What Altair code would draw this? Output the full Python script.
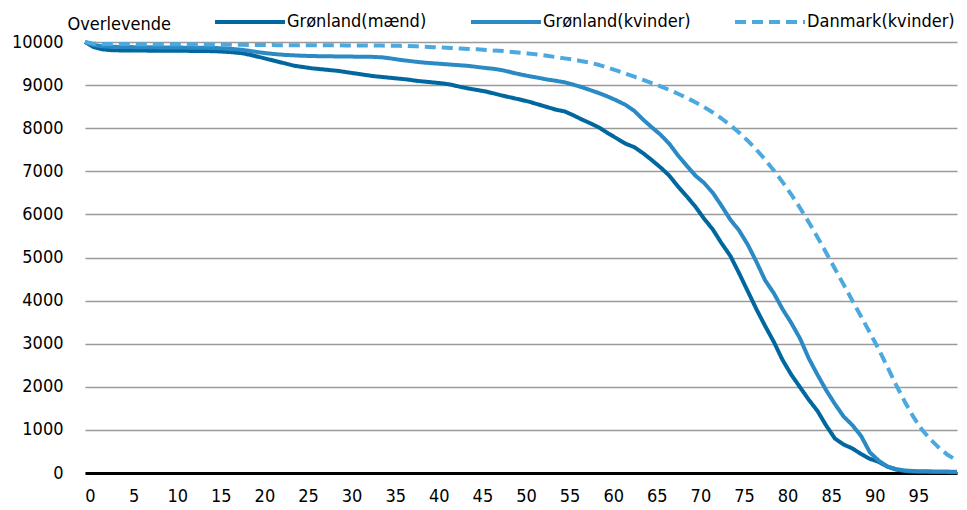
import altair as alt
import pandas as pd

ages = list(range(101))

maend = [10000, 9880, 9830, 9810, 9805, 9800, 9800, 9800, 9798, 9797,
         9796, 9795, 9794, 9792, 9790, 9785, 9775, 9760, 9740, 9700,
         9650, 9600, 9550, 9500, 9450, 9420, 9390, 9370, 9350, 9330,
         9300, 9270, 9240, 9210, 9190, 9170, 9150, 9130, 9100, 9080,
         9060, 9040, 9010, 8960, 8920, 8885, 8850, 8800, 8750, 8705,
         8660, 8610, 8550, 8490, 8430, 8390, 8300, 8200, 8110, 8010,
         7880, 7760, 7640, 7560, 7420, 7260, 7090, 6900, 6650, 6420,
         6180, 5900, 5650, 5330, 5040, 4640, 4220, 3800, 3410, 3040,
         2620, 2280, 1990, 1700, 1440, 1100, 800, 660, 570, 440,
         330, 260, 150, 80, 45, 30, 28, 25, 22, 20, 20]

kvinder = [10000, 9930, 9900, 9890, 9885, 9882, 9880, 9878, 9876, 9874,
           9872, 9870, 9868, 9866, 9864, 9860, 9850, 9835, 9820, 9790,
           9760, 9735, 9715, 9700, 9690, 9680, 9675, 9670, 9668, 9665,
           9663, 9660, 9660, 9655, 9645, 9620, 9590, 9565, 9540, 9520,
           9505, 9490, 9475, 9460, 9445, 9420, 9395, 9375, 9340, 9290,
           9245, 9205, 9170, 9130, 9100, 9065, 9010, 8950, 8880, 8810,
           8730, 8640, 8540, 8400, 8200, 8020, 7850, 7640, 7370, 7130,
           6900, 6730, 6500, 6200, 5880, 5630, 5300, 4900, 4470, 4170,
           3800, 3480, 3120, 2660, 2280, 1920, 1600, 1310, 1110, 860,
           480, 290, 150, 90, 60, 45, 40, 38, 35, 32, 30]

danmark = [10000, 9960, 9955, 9953, 9952, 9951, 9950, 9950, 9949, 9948,
           9947, 9946, 9945, 9944, 9943, 9941, 9939, 9937, 9935, 9932,
           9930, 9928, 9927, 9926, 9925, 9924, 9923, 9923, 9922, 9922,
           9921, 9920, 9919, 9918, 9916, 9914, 9911, 9908, 9900, 9890,
           9880, 9870, 9860, 9850, 9840, 9830, 9815, 9800, 9790, 9770,
           9750, 9730, 9705, 9680, 9650, 9620, 9590, 9555, 9515, 9465,
           9400, 9335, 9265, 9195, 9120, 9045, 8970, 8890, 8800, 8705,
           8600, 8490, 8365, 8225, 8070, 7900, 7710, 7500, 7270, 7020,
           6750, 6460, 6150, 5820, 5470, 5110, 4740, 4370, 4000, 3630,
           3260, 2880, 2470, 2050, 1660, 1300, 1000, 770, 570, 410, 290]

series_names = ["Grønland(mænd)", "Grønland(kvinder)", "Danmark(kvinder)"]
colors = ["#00679F", "#2B8AC4", "#4BA9E0"]
dashes = [[1, 0], [1, 0], [11, 6]]
x_ticks = list(range(0, 100, 5))
y_ticks = list(range(0, 10001, 1000))

rows = []
for name, vals in zip(series_names, [maend, kvinder, danmark]):
    for a, v in zip(ages, vals):
        rows.append({"alder": a, "overlevende": v, "serie": name})
df = pd.DataFrame(rows)

FONT = "'DejaVu Sans Condensed', 'Liberation Sans', sans-serif"
FS = 18

legend_kw = dict(
    orient="none", legendX=128, legendY=-57, direction="horizontal",
    title=None, symbolType="stroke", symbolSize=4900, symbolStrokeWidth=4,
    labelFontSize=FS, labelFont=FONT, labelColor="black", labelOffset=0,
    columnPadding=36, padding=0,
)

chart = alt.Chart(df).mark_line(strokeWidth=4, strokeJoin="round").encode(
    x=alt.X("alder:Q",
            scale=alt.Scale(domain=[0, 100], nice=False, zero=False),
            axis=alt.Axis(values=x_ticks, title=None, grid=False, ticks=False,
                          domainColor="black", domainWidth=3, format="d",
                          labelFontSize=FS, labelFont=FONT, labelColor="black",
                          labelPadding=14, labelOffset=5, labelFlush=False)),
    y=alt.Y("overlevende:Q",
            scale=alt.Scale(domain=[0, 10000], nice=False),
            axis=alt.Axis(values=y_ticks, title="Overlevende", titleAngle=0,
                          titleAlign="left", titleBaseline="alphabetic",
                          titleX=-18, titleY=-13, titleFont=FONT,
                          titleFontSize=FS, titleFontWeight="normal",
                          titleColor="black", format="d",
                          domain=False, ticks=False, gridColor="#9a9a9a",
                          gridWidth=1.5, labelFontSize=FS, labelFont=FONT,
                          labelColor="black", labelPadding=22)),
    color=alt.Color("serie:N", scale=alt.Scale(domain=series_names, range=colors),
                    legend=alt.Legend(**legend_kw)),
    strokeDash=alt.StrokeDash("serie:N",
                              scale=alt.Scale(domain=series_names, range=dashes),
                              legend=alt.Legend(**legend_kw)),
).properties(
    width=872, height=431,
    autosize=alt.AutoSizeParams(type="none"),
    padding={"left": 77, "top": 34, "right": 2, "bottom": 36},
    background="white",
).configure_view(stroke=None)

chart.save("out.html", embed_options={"renderer": "svg", "actions": False})
